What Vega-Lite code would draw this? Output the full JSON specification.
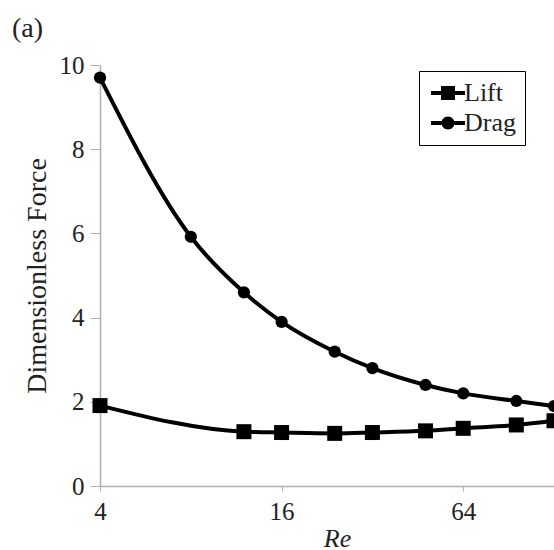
{
  "$schema": "https://vega.github.io/schema/vega-lite/v6.json",
  "autosize": "none",
  "padding": {"left": 100, "top": 65, "right": 0, "bottom": 64},
  "width": 454,
  "height": 421,
  "background": "white",
  "title": {"text": "(a)", "anchor": "start", "frame": "group", "dx": -88, "offset": 10, "font": "Times New Roman", "fontSize": 28, "fontWeight": "normal", "color": "#222"},
  "config": {"view": {"stroke": null}, "font": "Times New Roman"},
  "data": {"values": [
    {"Re": 4, "force": 9.70, "series": "Drag"},
    {"Re": 8, "force": 5.92, "series": "Drag"},
    {"Re": 12, "force": 4.60, "series": "Drag"},
    {"Re": 16, "force": 3.90, "series": "Drag"},
    {"Re": 24, "force": 3.19, "series": "Drag"},
    {"Re": 32, "force": 2.80, "series": "Drag"},
    {"Re": 48, "force": 2.40, "series": "Drag"},
    {"Re": 64, "force": 2.20, "series": "Drag"},
    {"Re": 96, "force": 2.02, "series": "Drag"},
    {"Re": 128, "force": 1.90, "series": "Drag"},
    {"Re": 4, "force": 1.91, "series": "Lift"},
    {"Re": 12, "force": 1.29, "series": "Lift"},
    {"Re": 16, "force": 1.27, "series": "Lift"},
    {"Re": 24, "force": 1.25, "series": "Lift"},
    {"Re": 32, "force": 1.27, "series": "Lift"},
    {"Re": 48, "force": 1.31, "series": "Lift"},
    {"Re": 64, "force": 1.37, "series": "Lift"},
    {"Re": 96, "force": 1.45, "series": "Lift"},
    {"Re": 128, "force": 1.55, "series": "Lift"}
  ]},
  "encoding": {
    "x": {"field": "Re", "type": "quantitative",
      "scale": {"type": "log", "base": 2, "domain": [4, 128], "nice": false},
      "axis": {"title": "Re", "values": [4, 16, 64], "grid": false,
        "domainColor": "#b0b0b0", "domainWidth": 1.5, "tickColor": "#b0b0b0", "tickSize": 5,
        "labelFont": "Times New Roman", "labelFontSize": 25, "labelColor": "#222", "labelPadding": 8,
        "labelFlush": false,
        "titleFont": "Times New Roman", "titleFontSize": 26, "titleFontStyle": "italic", "titleFontWeight": "normal", "titleColor": "#222", "titlePadding": 1, "titleX": 237}},
    "y": {"field": "force", "type": "quantitative",
      "scale": {"domain": [0, 10], "nice": false},
      "axis": {"title": "Dimensionless Force", "values": [0, 2, 4, 6, 8, 10], "grid": false,
        "domainColor": "#b0b0b0", "domainWidth": 1.5, "tickColor": "#b0b0b0", "tickSize": 10,
        "labelFont": "Times New Roman", "labelFontSize": 25, "labelColor": "#222", "labelPadding": 6,
        "labelFlush": false,
        "titleFont": "Times New Roman", "titleFontSize": 28, "titleFontWeight": "normal", "titleColor": "#222", "titlePadding": 8}}
  },
  "layer": [
    {"mark": {"type": "line", "interpolate": "monotone", "stroke": "black", "strokeWidth": 4},
     "encoding": {"detail": {"field": "series"}}},
    {"transform": [{"filter": "datum.series === 'Lift'"}],
     "mark": {"type": "point", "filled": true, "color": "black", "opacity": 1, "size": 225, "shape": "square"}},
    {"transform": [{"filter": "datum.series === 'Drag'"}],
     "mark": {"type": "point", "filled": true, "color": "black", "opacity": 1, "size": 150, "shape": "circle"}},
    {"mark": {"type": "point", "filled": true, "color": "black", "opacity": 0, "size": 0},
     "encoding": {
       "shape": {"field": "series", "type": "nominal",
         "scale": {"domain": ["Lift", "Drag"], "range": [
           "M-1.7,-0.2H1.7V0.2H-1.7Z M-0.7,-0.7H0.7V0.7H-0.7Z",
           "M-1.7,-0.2H1.7V0.2H-1.7Z M0.65,0A0.65,0.65 0 1 1 -0.65,0A0.65,0.65 0 1 1 0.65,0Z"]},
         "legend": {"title": null, "orient": "none", "legendX": 319, "legendY": 6,
           "strokeColor": "black", "padding": 9,
           "symbolSize": 400, "symbolFillColor": "black", "symbolStrokeWidth": 0, "symbolOpacity": 1, "symbolOffset": 7,
           "labelFont": "Times New Roman", "labelFontSize": 26, "labelColor": "#222", "labelOffset": 3,
           "rowPadding": 4,
           "encode": {"legend": {"strokeWidth": {"value": 2}}}
         }
       }
     }}
  ]
}
